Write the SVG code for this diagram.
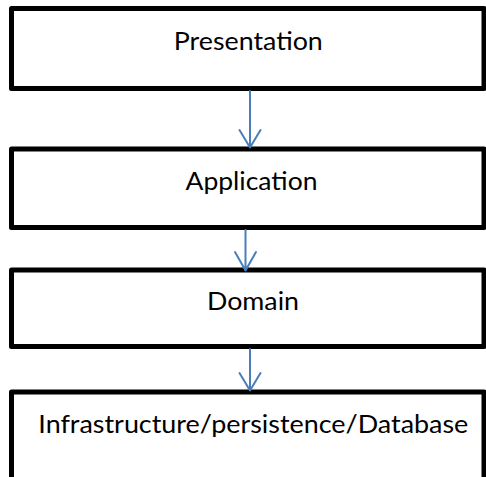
<svg xmlns="http://www.w3.org/2000/svg" width="486" height="477" viewBox="0 0 486 477">
<style>
.box{fill:#ffffff;stroke:#000000;stroke-width:5;stroke-linejoin:round}
.lbl{font-family:Lato,"Open Sans","Liberation Sans",sans-serif;font-size:25px;fill:#000000;text-anchor:middle}
.conn{stroke:#4a7ebb;stroke-width:2;fill:none;stroke-linecap:round;stroke-linejoin:round}
</style>
<rect width="486" height="477" fill="#ffffff"/>
<g id="presentation">
<rect class="box" x="11.5" y="8.5" width="472.5" height="80"/>
<text class="lbl" x="248.3" y="49.5" textLength="149" lengthAdjust="spacingAndGlyphs">Presentation</text>
</g>
<g id="application">
<rect class="box" x="11.5" y="149" width="472.5" height="78.5"/>
<text class="lbl" x="251.5" y="190" textLength="132" lengthAdjust="spacingAndGlyphs">Application</text>
</g>
<g id="domain">
<rect class="box" x="11.5" y="270" width="472.5" height="76.5"/>
<text class="lbl" x="253" y="310" textLength="92" lengthAdjust="spacingAndGlyphs">Domain</text>
</g>
<g id="infrastructure">
<rect class="box" x="11.5" y="392" width="472.5" height="110"/>
<text class="lbl" x="253.3" y="432.5" textLength="430" lengthAdjust="spacingAndGlyphs">Infrastructure/persistence/Database</text>
</g>
<g id="connectors">
<path class="conn" d="M250 91 V147.5 M239.5 130 L250 147.5 L260.5 130"/>
<path class="conn" d="M245.5 230 V270.5 M235 252 L245.5 270.5 L256 252"/>
<path class="conn" d="M250 349 V390.5 M239.5 373 L250 390.5 L260.5 373"/>
</g>
</svg>
